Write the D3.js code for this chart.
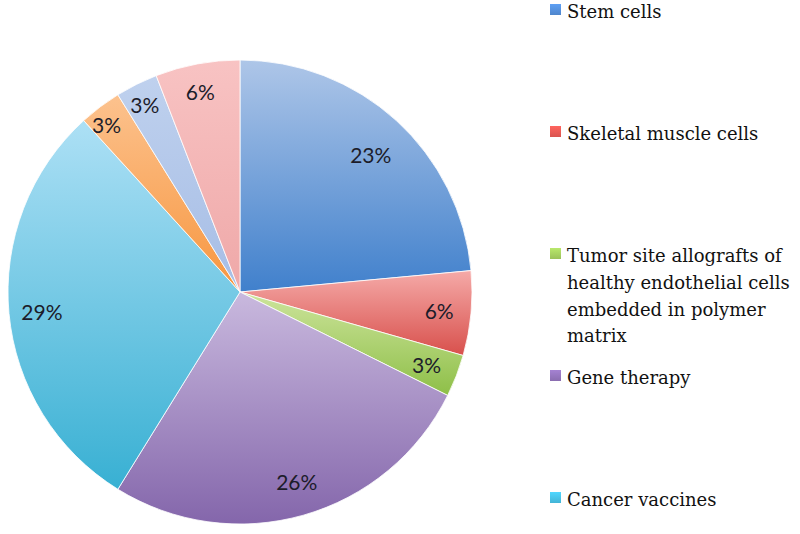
<!DOCTYPE html>
<html>
<head>
<meta charset="utf-8">
<script src="https://cdn.jsdelivr.net/npm/d3@7"></script>
<style>
  html, body { margin: 0; padding: 0; background: #fff; }
  svg { display: block; }
</style>
</head>
<body>
<svg id="chart" width="800" height="534"></svg>
<script>
// Data (counts; labels show rounded percentages)
const categories = [
  "Stem cells",
  "Skeletal muscle cells",
  "Tumor site allografts of healthy endothelial cells embedded in polymer matrix",
  "Gene therapy",
  "Cancer vaccines",
  "Other 1",
  "Other 2",
  "Other 3"
];
const values = [8, 2, 1, 9, 10, 1, 1, 2];
const percentLabels = ["23%", "6%", "3%", "26%", "29%", "3%", "3%", "6%"];
const legendCategories = categories.slice(0, 5);
const legendLines = [
  ["Stem cells"],
  ["Skeletal muscle cells"],
  ["Tumor site allografts of", "healthy endothelial cells", "embedded in polymer", "matrix"],
  ["Gene therapy"],
  ["Cancer vaccines"]
];

// Styles
const gradTop = ["#aec6e8", "#f5aaa8", "#cde49c", "#c9b9de", "#ade0f5", "#fcc28e", "#bfd1ee", "#f8c3c3"];
const gradBot = ["#4080cc", "#d8504c", "#8ebf48", "#8466ab", "#38b0d3", "#f7963f", "#a6bde5", "#efa8a8"];
const legendColors = ["#4f86cc", "#d9544f", "#9bc25a", "#8a6db0", "#43b4d6"];

const svg = d3.select("#chart");
const defs = svg.append("defs");
gradTop.forEach((c, i) => {
  const g = defs.append("linearGradient")
    .attr("id", "g" + i)
    .attr("x1", 0).attr("y1", 0).attr("x2", 0).attr("y2", 1);
  g.append("stop").attr("offset", "0%").attr("stop-color", c);
  g.append("stop").attr("offset", "100%").attr("stop-color", gradBot[i]);
});
legendColors.forEach((c, i) => {
  const g = defs.append("linearGradient")
    .attr("id", "lg" + i)
    .attr("x1", 0).attr("y1", 0).attr("x2", 0).attr("y2", 1);
  g.append("stop").attr("offset", "0%").attr("stop-color", d3.color(c).brighter(0.5));
  g.append("stop").attr("offset", "100%").attr("stop-color", c);
});

const cx = 240, cy = 292, R = 232;
const pie = d3.pie().sort(null).value(d => d)(values);
const arc = d3.arc().innerRadius(0).outerRadius(R);
const labelArc = d3.arc().innerRadius(200).outerRadius(200);

const g = svg.append("g").attr("transform", `translate(${cx},${cy})`);
g.selectAll("path.slice")
  .data(pie)
  .join("path")
  .attr("class", "slice")
  .attr("d", arc)
  .attr("fill", (d, i) => `url(#g${i})`)
  .attr("stroke", "#ffffff")
  .attr("stroke-width", 0.8);

const labelOffsets = [[-4, 10], [0, 0], [0, 0], [2, -3], [1, 1], [-13, -8], [-6, -8], [-3, -4]];
g.selectAll("text.pct")
  .data(pie)
  .join("text")
  .attr("class", "pct")
  .attr("x", (d, i) => labelArc.centroid(d)[0] + labelOffsets[i][0])
  .attr("y", (d, i) => labelArc.centroid(d)[1] + labelOffsets[i][1])
  .attr("text-anchor", "middle")
  .attr("dominant-baseline", "central")
  .attr("font-family", "Lato, 'Open Sans', sans-serif")
  .attr("font-size", 21)
  .attr("fill", "#1c1c2a")
  .text((d, i) => percentLabels[i]);

// Legend
const legendY = d3.scalePoint().domain(legendCategories).range([18, 506]);
const lg = svg.append("g");
legendCategories.forEach((cat, i) => {
  const y = legendY(cat);
  lg.append("rect")
    .attr("x", 550).attr("y", y - 14)
    .attr("width", 11).attr("height", 11)
    .attr("fill", `url(#lg${i})`);
  const t = lg.append("text")
    .attr("x", 567).attr("y", y)
    .attr("font-family", "'DejaVu Serif', serif")
    .attr("font-size", 18)
    .attr("fill", "#111");
  legendLines[i].forEach((line, j) => {
    t.append("tspan").attr("x", 567).attr("y", y + j * 26.8).text(line);
  });
});
</script>
</body>
</html>
